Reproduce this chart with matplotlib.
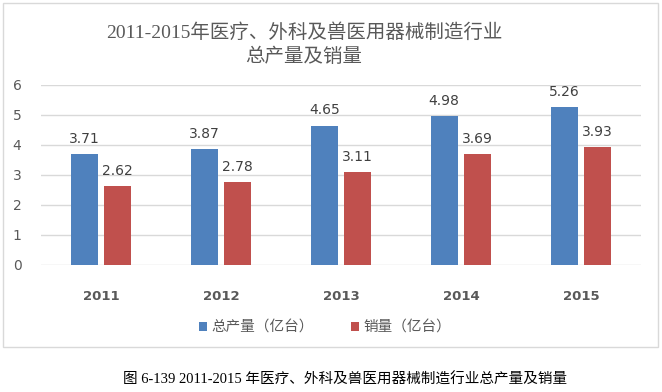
import matplotlib
matplotlib.use('Agg')
import matplotlib.pyplot as plt
from matplotlib.patches import Rectangle
import numpy as np

plt.rcParams['font.family'] = ['DejaVu Sans', 'Noto Sans CJK SC']

# data
years = ['2011', '2012', '2013', '2014', '2015']
output = [3.71, 3.87, 4.65, 4.98, 5.26]
sales = [2.62, 2.78, 3.11, 3.69, 3.93]
yticks = [0, 1, 2, 3, 4, 5, 6]

W, H = 662, 392
fig = plt.figure(figsize=(W / 100, H / 100), dpi=100)

# chart border
fig.patches.append(Rectangle((3 / W, 1 - 347 / H), 655 / W, 344 / H,
                             transform=fig.transFigure, fill=False,
                             edgecolor='#D9D9D9', linewidth=1))

ax = fig.add_axes([41 / W, 1 - 265 / H, 600 / W, 180 / H])
x = np.arange(len(years))
w = 0.225
b1 = ax.bar(x - 0.14, output, w, color='#4F81BD', label='总产量（亿台）', zorder=3)
b2 = ax.bar(x + 0.14, sales, w, color='#C0504D', label='销量（亿台）', zorder=3)

for bars in (b1, b2):
    for r in bars:
        ax.text(r.get_x() + r.get_width() / 2, r.get_height() + 0.5,
                f'{r.get_height():.2f}', ha='center', va='center',
                fontsize=10, color='#404040')

ax.set_xlim(-0.5, len(years) - 0.5)
ax.set_ylim(0, 6)
ax.set_yticks(yticks)
ax.yaxis.grid(True, color='#D9D9D9', linewidth=1, zorder=0)
for s in ax.spines.values():
    s.set_visible(False)
ax.tick_params(axis='y', length=0, pad=14, labelsize=10, labelcolor='#595959')
ax.tick_params(axis='x', length=0, pad=18)
ax.set_xticks(x)
ax.set_xticklabels(years, fontsize=9.5, fontweight='bold', color='#595959')

fig.text(304 / W, 1 - 33 / H, '2011-2015年医疗、外科及兽医用器械制造行业',
         ha='center', va='center', fontsize=14, color='#595959', fontweight='light',
         family=['Liberation Serif', 'Noto Sans CJK SC'])
fig.text(304 / W, 1 - 56 / H, '总产量及销量',
         ha='center', va='center', fontsize=14, color='#595959', fontweight='light',
         family=['Noto Sans CJK SC'])

fig.legend(handles=[b1, b2], loc='center', bbox_to_anchor=(325 / W, 1 - 328 / H),
           ncol=2, frameon=False, handlelength=0.6, handleheight=0.6,
           handletextpad=0.3, columnspacing=2.5, labelcolor='#595959',
           prop={'family': ['Noto Sans CJK SC'], 'size': 10.5})

fig.text(345 / W, 1 - 380 / H, '图 6-139 2011-2015 年医疗、外科及兽医用器械制造行业总产量及销量',
         ha='center', va='center', fontsize=10.5, color='black',
         family=['Liberation Serif', 'Noto Sans CJK SC'])

fig.savefig('out.png', dpi=100)
